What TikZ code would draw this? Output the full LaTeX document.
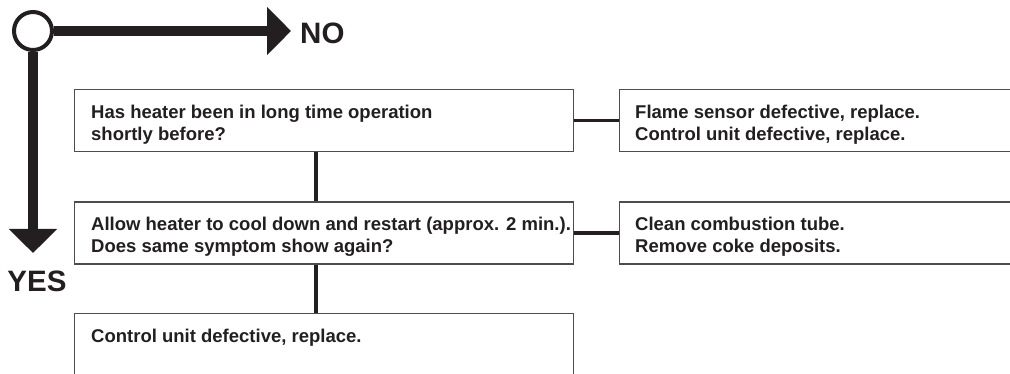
\documentclass[tikz,border=0pt]{standalone}
\usepackage{fontspec}
\setmainfont{Liberation Sans}
\usetikzlibrary{arrows.meta,positioning,calc}

\definecolor{inkblack}{HTML}{231F20}
\definecolor{framegray}{HTML}{4D4D4D}

\tikzset{
  box/.style={draw=framegray, line width=1.2pt, anchor=north west,
    minimum width=499pt, minimum height=62pt, inner sep=0pt},
  sidebox/.style={box, minimum width=395pt},
  boxtext/.style={anchor=north west, align=left, inner sep=0pt, text=inkblack,
    font=\bfseries\fontsize{18.5}{22}\selectfont},
  link/.style={draw=inkblack, line width=3.5pt},
  bigarrow/.style={draw=inkblack, line width=10pt, -{Triangle[length=24pt,width=47pt]}},
  bigtext/.style={inner sep=0pt, text=inkblack, font=\bfseries\fontsize{29.5}{29.5}\selectfont}
}

\begin{document}
\begin{tikzpicture}[x=1pt,y=-1pt]
  \useasboundingbox (0,0) rectangle (1010,374);

  % yes / no key
  \node[draw=inkblack, line width=4pt, circle, minimum size=38pt, inner sep=0pt] (start) at (33,31) {};
  \coordinate (noend) at (291,31);
  \coordinate (yesend) at (33,253);
  \draw[bigarrow] (start.east) -- (noend);
  \draw[bigarrow] (start.south) -- (yesend);
  \node[bigtext, anchor=west] (no) at (300,33) {NO};
  \node[bigtext] (yes) at (37,281) {YES};

  % question boxes
  \node[box] (q1) at (74,89) {};
  \node[box] (q2) at (74,201.5) {};
  \node[box] (q3) at (74,313) {};
  \node[boxtext] (q1t) at ([shift={(17,15.5)}]q1.north west)
    {Has heater been in long time operation\\shortly before?};
  \node[boxtext] (q2t) at ([shift={(17,15.5)}]q2.north west)
    {Allow heater to cool down and restart (approx. 2 min.).\\Does same symptom show again?};
  \node[boxtext] (q3t) at ([shift={(17,15.5)}]q3.north west)
    {Control unit defective, replace.};

  % remedy boxes
  \node[sidebox] (r1) at (619,89) {};
  \node[sidebox] (r2) at (619,201.5) {};
  \node[boxtext] (r1t) at ([shift={(16,15.5)}]r1.north west)
    {Flame sensor defective, replace.\\Control unit defective, replace.};
  \node[boxtext] (r2t) at ([shift={(16,15.5)}]r2.north west)
    {Clean combustion tube.\\Remove coke deposits.};

  % connectors
  \draw[link] (q1.east) -- (r1.west);
  \draw[link] (q2.east) -- (r2.west);
  \draw[link] ([xshift=-8pt]q1.south) -- ([xshift=-8pt]q2.north);
  \draw[link] ([xshift=-8pt]q2.south) -- ([xshift=-8pt]q3.north);
\end{tikzpicture}
\end{document}
